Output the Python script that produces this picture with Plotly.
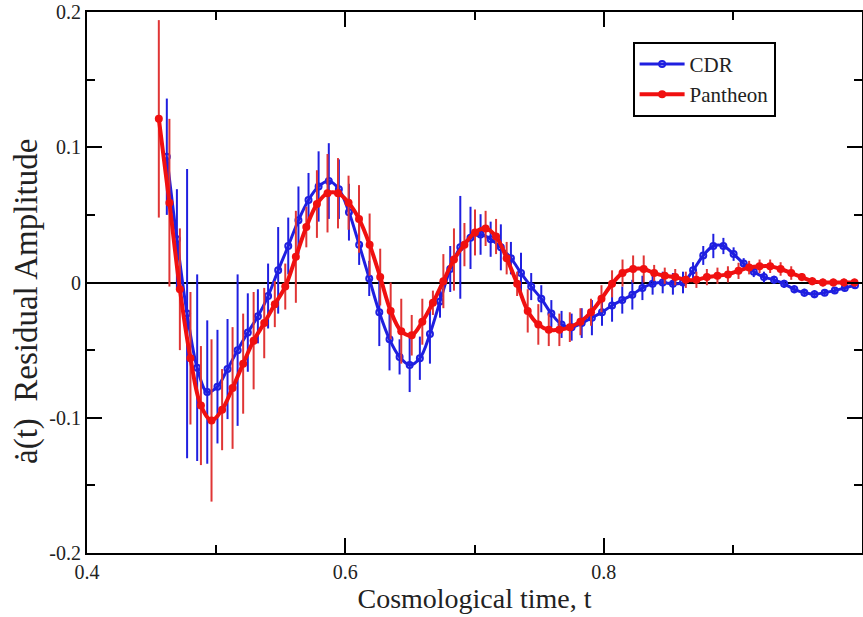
import plotly.graph_objects as go

# ---------------- data ----------------
cdr_t = [0.4618, 0.4696, 0.4775, 0.4853, 0.4931, 0.5010, 0.5088, 0.5166, 0.5245, 0.5323,
         0.5402, 0.5480, 0.5558, 0.5637, 0.5715, 0.5793, 0.5872, 0.5950, 0.6028, 0.6107,
         0.6185, 0.6263, 0.6342, 0.6420, 0.6498, 0.6577, 0.6655, 0.6733, 0.6812, 0.6890,
         0.6969, 0.7047, 0.7125, 0.7204, 0.7282, 0.7360, 0.7439, 0.7517, 0.7595, 0.7674,
         0.7752, 0.7830, 0.7909, 0.7987, 0.8065, 0.8144, 0.8222, 0.8300, 0.8379, 0.8457,
         0.8536, 0.8614, 0.8692, 0.8771, 0.8849, 0.8927, 0.9006, 0.9084, 0.9162, 0.9241,
         0.9319, 0.9397, 0.9476, 0.9554, 0.9632, 0.9711, 0.9789, 0.9867, 0.9946]
cdr_y = [0.093, 0.032, -0.023, -0.063, -0.081, -0.077, -0.064, -0.050, -0.037, -0.025,
         -0.010, 0.009, 0.027, 0.046, 0.061, 0.071, 0.075, 0.069, 0.052, 0.028,
         0.003, -0.022, -0.042, -0.055, -0.061, -0.056, -0.038, -0.014, 0.010, 0.026,
         0.033, 0.0355, 0.032, 0.026, 0.018, 0.007, -0.003, -0.012, -0.023, -0.031,
         -0.033, -0.030, -0.026, -0.022, -0.017, -0.013, -0.009, -0.004, -0.001, 0.000,
         -0.001, 0.000, 0.009, 0.020, 0.027, 0.027, 0.021, 0.014, 0.008, 0.004,
         0.002, -0.001, -0.005, -0.0075, -0.0086, -0.0075, -0.006, -0.004, -0.002]
cdr_err = [0.043, 0.037, 0.107, 0.069, 0.053, 0.042, 0.037, 0.056, 0.029, 0.020,
           0.024, 0.032, 0.021, 0.025, 0.020, 0.026, 0.028, 0.022, 0.021, 0.015,
           0.013, 0.025, 0.023, 0.013, 0.020, 0.016, 0.022, 0.012, 0.017, 0.038,
           0.023, 0.015, 0.013, 0.017, 0.012, 0.015, 0.010, 0.010, 0.010, 0.010,
           0.010, 0.011, 0.013, 0.010, 0.012, 0.010, 0.011, 0.009, 0.008, 0.008,
           0.008, 0.008, 0.006, 0.007, 0.009, 0.006, 0.005, 0.004, 0.004, 0.004,
           0.003, 0.003, 0.003, 0.003, 0.003, 0.002, 0.002, 0.002, 0.002]

pan_t = [0.4556, 0.4638, 0.4719, 0.4801, 0.4882, 0.4964, 0.5046, 0.5127, 0.5209, 0.5290,
         0.5372, 0.5454, 0.5535, 0.5617, 0.5698, 0.5780, 0.5862, 0.5943, 0.6025, 0.6106,
         0.6188, 0.6270, 0.6351, 0.6433, 0.6514, 0.6596, 0.6678, 0.6759, 0.6841, 0.6922,
         0.7004, 0.7086, 0.7167, 0.7249, 0.7330, 0.7412, 0.7494, 0.7575, 0.7657, 0.7738,
         0.7820, 0.7902, 0.7983, 0.8065, 0.8146, 0.8228, 0.8310, 0.8391, 0.8473, 0.8554,
         0.8636, 0.8718, 0.8799, 0.8881, 0.8962, 0.9044, 0.9126, 0.9207, 0.9289, 0.9370,
         0.9452, 0.9534, 0.9615, 0.9697, 0.9778, 0.9860, 0.9942]
pan_y = [0.121, 0.059, -0.005, -0.056, -0.091, -0.102, -0.094, -0.078, -0.060, -0.043,
         -0.030, -0.016, -0.003, 0.019, 0.041, 0.058, 0.066, 0.066, 0.059, 0.047,
         0.028, 0.004, -0.021, -0.036, -0.039, -0.029, -0.015, 0.001, 0.017, 0.028,
         0.037, 0.040, 0.034, 0.018, -0.001, -0.021, -0.031, -0.035, -0.035, -0.033,
         -0.029, -0.022, -0.012, -0.001, 0.007, 0.010, 0.010, 0.007, 0.005, 0.004,
         0.002, 0.002, 0.004, 0.005, 0.006, 0.0086, 0.011, 0.012, 0.012, 0.010,
         0.007, 0.004, 0.001, 0.000, 0.000, 0.000, 0.000]
pan_err = [0.073, 0.062, 0.045, 0.049, 0.044, 0.060, 0.030, 0.045, 0.037, 0.036,
           0.026, 0.017, 0.017, 0.034, 0.015, 0.025, 0.029, 0.026, 0.020, 0.025,
           0.023, 0.021, 0.021, 0.024, 0.015, 0.017, 0.009, 0.020, 0.023, 0.016,
           0.017, 0.013, 0.013, 0.012, 0.009, 0.016, 0.015, 0.012, 0.012, 0.011,
           0.010, 0.010, 0.010, 0.010, 0.010, 0.010, 0.010, 0.006, 0.006, 0.006,
           0.006, 0.006, 0.006, 0.006, 0.006, 0.006, 0.005, 0.005, 0.005, 0.005,
           0.005, 0.003, 0.003, 0.003, 0.003, 0.003, 0.003]

x_ticks = [0.4, 0.6, 0.8]
x_labels = ["0.4", "0.6", "0.8"]
y_ticks = [-0.2, -0.1, 0, 0.1, 0.2]
y_labels = ["-0.2", "-0.1", "0", "0.1", "0.2"]

BLUE = "#1f1fe0"
RED = "#f01010"
RED_BAR = "#e03535"
FONT = "Liberation Serif"

fig = go.Figure()
fig.add_trace(go.Scatter(
    x=cdr_t, y=cdr_y, name="CDR", mode="lines+markers",
    line=dict(color=BLUE, width=3, shape="spline"),
    marker=dict(symbol="circle-open", size=6, color=BLUE, line=dict(width=2, color=BLUE)),
    error_y=dict(type="data", array=cdr_err, visible=True, color=BLUE, thickness=2, width=0),
))
fig.add_trace(go.Scatter(
    x=pan_t, y=pan_y, name="Pantheon", mode="lines+markers",
    line=dict(color=RED, width=4, shape="spline"),
    marker=dict(symbol="circle", size=8, color=RED),
    error_y=dict(type="data", array=pan_err, visible=True, color=RED_BAR, thickness=2, width=0),
))

axis_common = dict(
    showline=True, linecolor="black", linewidth=2, mirror="allticks",
    ticks="inside", ticklen=15, tickwidth=2, tickcolor="black",
    showgrid=False, tickfont=dict(family=FONT, size=20, color="#222"),
    ticklabeloverflow="allow", automargin=False,
)

fig.update_xaxes(
    range=[0.4, 1.0], tickvals=x_ticks, ticktext=x_labels,
    minor=dict(ticks="inside", ticklen=8, tickwidth=2, tickcolor="black", dtick=0.1, tick0=0.4),
    zeroline=False, **axis_common,
    title=dict(text="Cosmological time, t", font=dict(family=FONT, size=28, color="#222"), standoff=4),
)
fig.update_yaxes(
    range=[-0.2, 0.2], tickvals=y_ticks, ticktext=y_labels,
    minor=dict(ticks="inside", ticklen=8, tickwidth=2, tickcolor="black", dtick=0.05, tick0=0),
    zeroline=True, zerolinecolor="black", zerolinewidth=2, **axis_common,
)

fig.add_annotation(
    text="ȧ(t)  Residual Amplitude", textangle=-90,
    xref="paper", yref="paper", x=-0.078, y=0.465, xanchor="center", yanchor="middle",
    showarrow=False, font=dict(family=FONT, size=33, color="#222"),
)

fig.update_layout(
    width=863, height=617,
    margin=dict(l=87, r=1, t=12, b=64, autoexpand=False),
    plot_bgcolor="white", paper_bgcolor="white",
    showlegend=True,
    legend=dict(
        x=0.704, y=0.945, xanchor="left", yanchor="top",
        bordercolor="black", borderwidth=2, bgcolor="white",
        font=dict(family=FONT, size=21, color="#222"),
        tracegroupgap=0, itemwidth=45,
    ),
)

fig.write_html("out.html", config={"displayModeBar": False},
               post_script="document.body.style.margin='0';")
